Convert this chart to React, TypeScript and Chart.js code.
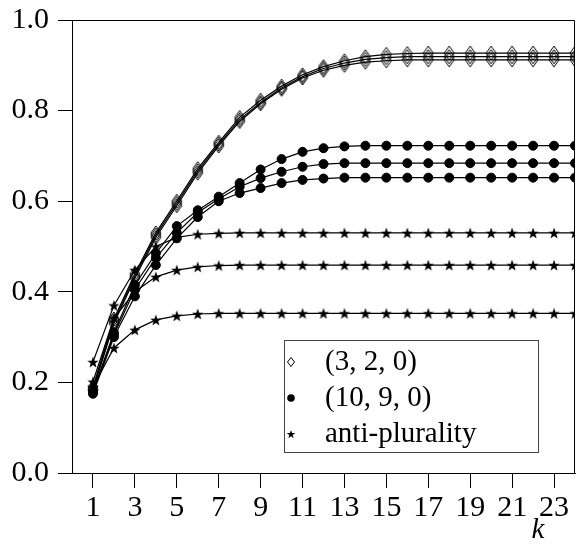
import React, { useEffect, useRef } from "react";
import { Chart, registerables } from "chart.js";

Chart.register(...registerables);

const kValues = [1, 2, 3, 4, 5, 6, 7, 8, 9, 10, 11, 12, 13, 14, 15, 16, 17, 18, 19, 20, 21, 22, 23, 24];
const xTickValues = [1, 3, 5, 7, 9, 11, 13, 15, 17, 19, 21, 23];
const yTickValues = [0, 0.2, 0.4, 0.6, 0.8, 1.0];

// (3,2,0) series
const diamondA = [0.19, 0.34, 0.44, 0.53, 0.60, 0.672, 0.73, 0.785, 0.823, 0.854, 0.879, 0.897, 0.91, 0.919, 0.924, 0.926, 0.927, 0.927, 0.927, 0.927, 0.927, 0.927, 0.927, 0.927];
const diamondB = [0.185, 0.335, 0.435, 0.525, 0.595, 0.667, 0.726, 0.78, 0.818, 0.85, 0.875, 0.893, 0.905, 0.913, 0.917, 0.919, 0.919, 0.919, 0.919, 0.919, 0.919, 0.919, 0.919, 0.919];
const diamondC = [0.183, 0.33, 0.43, 0.52, 0.59, 0.662, 0.722, 0.776, 0.815, 0.847, 0.872, 0.889, 0.9, 0.907, 0.91, 0.912, 0.912, 0.912, 0.912, 0.912, 0.912, 0.912, 0.912, 0.912];
// (10,9,0) series
const circleA = [0.18, 0.31, 0.415, 0.485, 0.545, 0.58, 0.61, 0.64, 0.67, 0.693, 0.709, 0.717, 0.721, 0.7225, 0.7225, 0.7225, 0.7225, 0.7225, 0.7225, 0.7225, 0.7225, 0.7225, 0.7225, 0.7225];
const circleB = [0.178, 0.305, 0.405, 0.475, 0.53, 0.575, 0.605, 0.632, 0.651, 0.665, 0.676, 0.682, 0.684, 0.684, 0.684, 0.684, 0.684, 0.684, 0.684, 0.684, 0.684, 0.684, 0.684, 0.684];
const circleC = [0.175, 0.30, 0.39, 0.459, 0.518, 0.565, 0.60, 0.618, 0.629, 0.64, 0.647, 0.65, 0.652, 0.652, 0.652, 0.652, 0.652, 0.652, 0.652, 0.652, 0.652, 0.652, 0.652, 0.652];
// anti-plurality series
const starA = [0.245, 0.37, 0.448, 0.50, 0.52, 0.527, 0.529, 0.53, 0.53, 0.53, 0.53, 0.53, 0.53, 0.53, 0.53, 0.53, 0.53, 0.53, 0.53, 0.53, 0.53, 0.53, 0.53, 0.53];
const starB = [0.2015, 0.342, 0.40, 0.433, 0.448, 0.455, 0.458, 0.459, 0.459, 0.459, 0.459, 0.459, 0.459, 0.459, 0.459, 0.459, 0.459, 0.459, 0.459, 0.459, 0.459, 0.459, 0.459, 0.459];
const starC = [0.19, 0.276, 0.316, 0.338, 0.347, 0.351, 0.3525, 0.3525, 0.3525, 0.3525, 0.3525, 0.3525, 0.3525, 0.3525, 0.3525, 0.3525, 0.3525, 0.3525, 0.3525, 0.3525, 0.3525, 0.3525, 0.3525, 0.3525];

const legendLabels = ["(3, 2, 0)", "(10, 9, 0)", "anti-plurality"];

const FONT = "'Liberation Serif', 'Times New Roman', serif";

function drawStarPath(ctx: CanvasRenderingContext2D, cx: number, cy: number, R: number) {
  const r = R * 0.4;
  ctx.beginPath();
  for (let i = 0; i < 10; i++) {
    const ang = -Math.PI / 2 + (i * Math.PI) / 5;
    const rad = i % 2 === 0 ? R : r;
    const x = cx + rad * Math.cos(ang);
    const y = cy + rad * Math.sin(ang);
    if (i === 0) ctx.moveTo(x, y);
    else ctx.lineTo(x, y);
  }
  ctx.closePath();
}

function drawDiamondPath(ctx: CanvasRenderingContext2D, cx: number, cy: number, w: number, h: number) {
  ctx.beginPath();
  ctx.moveTo(cx, cy - h / 2);
  ctx.lineTo(cx + w / 2, cy);
  ctx.lineTo(cx, cy + h / 2);
  ctx.lineTo(cx - w / 2, cy);
  ctx.closePath();
}

function makeStar(R: number) {
  const c = document.createElement("canvas");
  const s = Math.ceil(R * 2 + 2);
  c.width = s;
  c.height = s;
  const ctx = c.getContext("2d")!;
  ctx.fillStyle = "#000";
  drawStarPath(ctx, s / 2, s / 2 + R * 0.1, R);
  ctx.fill();
  return c;
}

function makeDiamond(w: number, h: number) {
  const c = document.createElement("canvas");
  c.width = w + 2;
  c.height = h + 2;
  const ctx = c.getContext("2d")!;
  ctx.strokeStyle = "#000";
  ctx.lineWidth = 1;
  drawDiamondPath(ctx, (w + 2) / 2, (h + 2) / 2, w, h);
  ctx.stroke();
  return c;
}

export default function App() {
  const ref = useRef<HTMLCanvasElement | null>(null);

  useEffect(() => {
    document.body.style.margin = "0";
    const star = makeStar(6);
    const diamond = makeDiamond(10, 14);

    const mk = (vals: number[], style: any, radius: number) => ({
      data: kValues.map((k, i) => ({ x: k, y: vals[i] })),
      borderColor: "#000",
      borderWidth: 1.2,
      backgroundColor: "#000",
      pointStyle: style,
      pointRadius: radius,
      pointBorderWidth: 1,
      pointBorderColor: "#000",
      pointBackgroundColor: "#000",
      tension: 0,
    });

    const frameLegend = {
      id: "frameLegend",
      afterDraw(chart: any) {
        const ctx = chart.ctx as CanvasRenderingContext2D;
        const a = chart.chartArea;
        ctx.save();
        ctx.strokeStyle = "#000";
        ctx.lineWidth = 1;
        ctx.beginPath();
        ctx.moveTo(a.left, a.top + 0.5);
        ctx.lineTo(a.right - 0.5, a.top + 0.5);
        ctx.lineTo(a.right - 0.5, a.bottom);
        ctx.stroke();

        // legend box
        const lx = 284, ly = 340, lw = 254, lh = 112;
        ctx.fillStyle = "#fff";
        ctx.fillRect(lx, ly, lw, lh);
        ctx.strokeStyle = "#444";
        ctx.strokeRect(lx + 0.5, ly + 0.5, lw, lh);
        const rows = [362, 398, 434];
        const mx = 291;
        ctx.strokeStyle = "#000";
        ctx.fillStyle = "#000";
        drawDiamondPath(ctx, mx, rows[0], 7, 9);
        ctx.stroke();
        ctx.beginPath();
        ctx.arc(mx, rows[1], 3.8, 0, Math.PI * 2);
        ctx.fill();
        drawStarPath(ctx, mx, rows[2] + 0.5, 4.5);
        ctx.fill();
        ctx.font = `29px ${FONT}`;
        ctx.textBaseline = "middle";
        ctx.textAlign = "left";
        legendLabels.forEach((t, i) => ctx.fillText(t, 325, rows[i]));

        ctx.font = `italic 29px ${FONT}`;
        ctx.textAlign = "center";
        ctx.fillText("k", 538, 530);
        ctx.restore();
      },
    };

    const chart = new Chart(ref.current!, {
      type: "line",
      data: {
        datasets: [
          mk(diamondA, diamond, 6),
          mk(diamondB, diamond, 6),
          mk(diamondC, diamond, 6),
          mk(circleA, "circle", 4.5),
          mk(circleB, "circle", 4.5),
          mk(circleC, "circle", 4.5),
          mk(starA, star, 6),
          mk(starB, star, 6),
          mk(starC, star, 6),
        ] as any,
      },
      options: {
        animation: false,
        responsive: false,
        devicePixelRatio: 1,
        layout: { padding: { top: 20, right: 2, left: 0, bottom: 0 } },
        plugins: { legend: { display: false }, tooltip: { enabled: false } },
        scales: {
          x: {
            type: "linear",
            min: 0,
            max: 24,
            afterBuildTicks: (s: any) => {
              s.ticks = xTickValues.map((v) => ({ value: v }));
            },
            afterFit: (s: any) => {
              s.height = 75;
              s.paddingLeft = 0;
              s.paddingRight = 0;
            },
            grid: { drawOnChartArea: false, drawTicks: true, tickLength: 15, color: "#000" },
            border: { display: true, color: "#000", width: 1 },
            ticks: {
              color: "#000",
              font: { family: FONT, size: 30 },
              padding: 2,
              maxRotation: 0,
              autoSkip: false,
              callback: (v: any) => String(v),
            },
          },
          y: {
            type: "linear",
            min: 0,
            max: 1,
            afterBuildTicks: (s: any) => {
              s.ticks = yTickValues.map((v) => ({ value: v }));
            },
            afterFit: (s: any) => {
              s.width = 72;
              s.paddingTop = 0;
              s.paddingBottom = 0;
            },
            grid: { drawOnChartArea: false, drawTicks: true, tickLength: 14, color: "#000" },
            border: { display: true, color: "#000", width: 1 },
            ticks: {
              color: "#000",
              font: { family: FONT, size: 30 },
              padding: 9,
              callback: (v: any) => Number(v).toFixed(1),
            },
          },
        },
      },
      plugins: [frameLegend],
    });
    return () => chart.destroy();
  }, []);

  return (
    <div style={{ position: "absolute", left: 0, top: 0, width: 582, height: 548, background: "#fff" }}>
      <canvas ref={ref} width={582} height={548} style={{ width: 582, height: 548 }} />
    </div>
  );
}
